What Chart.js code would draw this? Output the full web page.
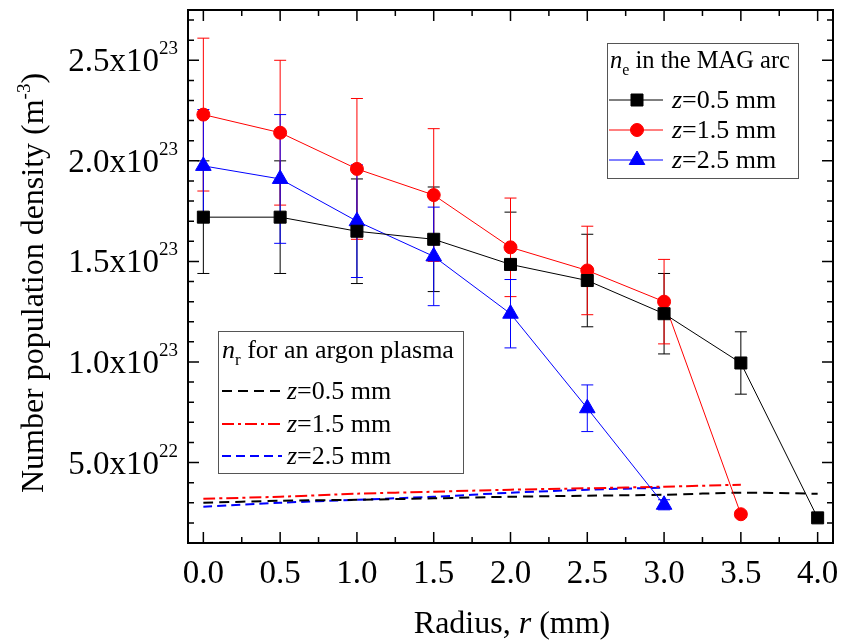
<!DOCTYPE html>
<html>
<head>
<meta charset="utf-8">
<script src="https://cdn.jsdelivr.net/npm/chart.js@4.4.0/dist/chart.umd.min.js"></script>
<style>
body { margin: 0; background: #fff; }
</style>
</head>
<body>
<canvas id="chart" width="843" height="644"></canvas>
<script>
// radius (mm)
const radius = [0.0, 0.5, 1.0, 1.5, 2.0, 2.5, 3.0, 3.5, 4.0];

// n_e measured in the MAG arc (m^-3)
const ne_z05 = [1.72e23, 1.72e23, 1.65e23, 1.61e23, 1.485e23, 1.405e23, 1.24e23, 0.995e23, 0.225e23];
const ne_z05_err = [0.28e23, 0.28e23, 0.26e23, 0.26e23, 0.26e23, 0.23e23, 0.20e23, 0.155e23, 0.015e23];
const ne_z15 = [2.23e23, 2.14e23, 1.96e23, 1.83e23, 1.57e23, 1.455e23, 1.30e23, 0.243e23];
const ne_z15_err = [0.38e23, 0.36e23, 0.35e23, 0.33e23, 0.245e23, 0.22e23, 0.21e23, 0.015e23];
const ne_z25 = [1.975e23, 1.91e23, 1.70e23, 1.525e23, 1.24e23, 0.77e23, 0.29e23];
const ne_z25_err = [0.28e23, 0.32e23, 0.28e23, 0.245e23, 0.17e23, 0.116e23, 0.025e23];

// n_r for an argon plasma (m^-3)
const nr_z05 = [0.30e23, 0.31e23, 0.315e23, 0.322e23, 0.33e23, 0.335e23, 0.34e23, 0.35e23, 0.345e23];
const nr_z15 = [0.32e23, 0.33e23, 0.345e23, 0.355e23, 0.365e23, 0.372e23, 0.38e23, 0.39e23];
const nr_z25 = [0.28e23, 0.30e23, 0.315e23, 0.33e23, 0.35e23, 0.365e23, 0.375e23];

// axes
const x_major = [0.0, 0.5, 1.0, 1.5, 2.0, 2.5, 3.0, 3.5, 4.0];
const x_minor = [0.25, 0.75, 1.25, 1.75, 2.25, 2.75, 3.25, 3.75];
const x_labels = ['0.0', '0.5', '1.0', '1.5', '2.0', '2.5', '3.0', '3.5', '4.0'];
const y_major = [0.5e23, 1.0e23, 1.5e23, 2.0e23, 2.5e23];
const y_minor = [0.2e23, 0.3e23, 0.4e23, 0.6e23, 0.7e23, 0.8e23, 0.9e23, 1.1e23, 1.2e23, 1.3e23, 1.4e23,
                 1.6e23, 1.7e23, 1.8e23, 1.9e23, 2.1e23, 2.2e23, 2.3e23, 2.4e23, 2.6e23, 2.7e23];
const y_labels = [['5.0x10', '22'], ['1.0x10', '23'], ['1.5x10', '23'], ['2.0x10', '23'], ['2.5x10', '23']];
const z_labels = ['0.5', '1.5', '2.5'];

const FONT = '"Liberation Serif", "Times New Roman", serif';

function pts(xs, ys)
{
    return ys.map((y, i) => ({ x: xs[i], y: y }));
}

// parts: [text, size, italic, dy]
function rich_text(ctx, parts, x, y, align)
{
    let w = 0;
    parts.forEach(p => {
        ctx.font = (p[2] ? 'italic ' : '') + p[1] + 'px ' + FONT;
        w += ctx.measureText(p[0]).width;
    });
    let cx = align === 'right' ? x - w : (align === 'center' ? x - w / 2 : x);
    ctx.textAlign = 'left';
    ctx.textBaseline = 'alphabetic';
    parts.forEach(p => {
        ctx.font = (p[2] ? 'italic ' : '') + p[1] + 'px ' + FONT;
        ctx.fillText(p[0], cx, y + (p[3] || 0));
        cx += ctx.measureText(p[0]).width;
    });
}

function marker(ctx, style, x, y, color)
{
    ctx.save();
    ctx.fillStyle = color;
    ctx.strokeStyle = color;
    ctx.lineWidth = 1;
    ctx.beginPath();
    if (style === 'rect') {
        ctx.rect(x - 6, y - 6, 12, 12);
    } else if (style === 'circle') {
        ctx.arc(x, y, 6.5, 0, Math.PI * 2);
    } else {
        const r = 9;
        ctx.moveTo(x, y - r);
        ctx.lineTo(x + r * 0.866, y + r * 0.5);
        ctx.lineTo(x - r * 0.866, y + r * 0.5);
        ctx.closePath();
    }
    ctx.fill();
    ctx.stroke();
    ctx.restore();
}

const axes_plugin = {
    id: 'axes_plugin',
    beforeDatasetsDraw(chart) {
        const ctx = chart.ctx;
        const xs = chart.scales.x, ys = chart.scales.y;
        chart.data.datasets.forEach(ds => {
            if (!ds.errorBars) return;
            ctx.save();
            ctx.strokeStyle = ds.borderColor;
            ctx.lineWidth = 1;
            ds.data.forEach((p, i) => {
                const px = xs.getPixelForValue(p.x);
                const top = ys.getPixelForValue(p.y + ds.errorBars[i]);
                const bot = ys.getPixelForValue(p.y - ds.errorBars[i]);
                ctx.beginPath();
                ctx.moveTo(px, top); ctx.lineTo(px, bot);
                ctx.moveTo(px - 6, top); ctx.lineTo(px + 6, top);
                ctx.moveTo(px - 6, bot); ctx.lineTo(px + 6, bot);
                ctx.stroke();
            });
            ctx.restore();
        });
    },
    afterDraw(chart) {
        const ctx = chart.ctx;
        const a = chart.chartArea;
        const xs = chart.scales.x, ys = chart.scales.y;
        ctx.save();
        ctx.fillStyle = '#000';
        ctx.strokeStyle = '#000';

        // ticks, inward on all four sides
        ctx.lineWidth = 1.5;
        ctx.beginPath();
        x_major.forEach(v => {
            const px = xs.getPixelForValue(v);
            ctx.moveTo(px, a.bottom); ctx.lineTo(px, a.bottom - 11);
            ctx.moveTo(px, a.top); ctx.lineTo(px, a.top + 11);
        });
        x_minor.forEach(v => {
            const px = xs.getPixelForValue(v);
            ctx.moveTo(px, a.bottom); ctx.lineTo(px, a.bottom - 6);
            ctx.moveTo(px, a.top); ctx.lineTo(px, a.top + 6);
        });
        y_major.forEach(v => {
            const py = ys.getPixelForValue(v);
            ctx.moveTo(a.left, py); ctx.lineTo(a.left + 11, py);
            ctx.moveTo(a.right, py); ctx.lineTo(a.right - 11, py);
        });
        y_minor.forEach(v => {
            const py = ys.getPixelForValue(v);
            ctx.moveTo(a.left, py); ctx.lineTo(a.left + 6, py);
            ctx.moveTo(a.right, py); ctx.lineTo(a.right - 6, py);
        });
        ctx.stroke();

        // frame
        ctx.lineWidth = 2;
        ctx.strokeRect(a.left, a.top, a.right - a.left, a.bottom - a.top);

        // tick labels
        x_major.forEach((v, i) => {
            rich_text(ctx, [[x_labels[i], 33, false]], xs.getPixelForValue(v), a.bottom + 40, 'center');
        });
        y_major.forEach((v, i) => {
            const py = ys.getPixelForValue(v);
            rich_text(ctx, [[y_labels[i][0], 33, false, 11], [y_labels[i][1], 19, false, -6]], 178, py, 'right');
        });

        // axis titles
        rich_text(ctx, [['Radius, ', 32, false], ['r', 32, true], [' (mm)', 32, false]], 512, 633, 'center');
        ctx.save();
        ctx.translate(43, 283);
        ctx.rotate(-Math.PI / 2);
        rich_text(ctx, [['Number population density (m', 32, false], ['-3', 19, false, -13], [')', 32, false]], 0, 0, 'center');
        ctx.restore();

        // legend: n_e
        ctx.fillStyle = '#fff';
        ctx.fillRect(607, 43, 191, 135);
        ctx.strokeStyle = '#555';
        ctx.lineWidth = 1;
        ctx.strokeRect(607.5, 43.5, 191, 135);
        ctx.fillStyle = '#000';
        rich_text(ctx, [['n', 24.5, true], ['e', 16, false, 7], [' in the MAG arc', 24.5, false]], 610, 68, 'left');
        const ne_sets = chart.data.datasets.slice(0, 3);
        ne_sets.forEach((ds, i) => {
            const ry = 100 + i * 30;
            ctx.strokeStyle = ds.borderColor;
            ctx.lineWidth = 1;
            ctx.beginPath(); ctx.moveTo(609, ry); ctx.lineTo(663, ry); ctx.stroke();
            marker(ctx, ds.pointStyle, 637, ry, ds.borderColor);
            ctx.fillStyle = '#000';
            rich_text(ctx, [['z', 26, true], ['=' + z_labels[i] + ' mm', 26, false]], 672, ry + 8, 'left');
        });

        // legend: n_r
        ctx.fillStyle = '#fff';
        ctx.fillRect(218, 331, 245, 142);
        ctx.strokeStyle = '#555';
        ctx.lineWidth = 1;
        ctx.strokeRect(218.5, 331.5, 245, 142);
        ctx.fillStyle = '#000';
        rich_text(ctx, [['n', 26, true], ['r', 17, false, 7], [' for an argon plasma', 26, false]], 222, 358, 'left');
        const nr_sets = chart.data.datasets.slice(3, 6);
        nr_sets.forEach((ds, i) => {
            const ry = [391, 424, 456][i];
            ctx.save();
            ctx.strokeStyle = ds.borderColor;
            ctx.lineWidth = 2;
            ctx.setLineDash(ds.borderDash);
            ctx.beginPath(); ctx.moveTo(222, ry); ctx.lineTo(282, ry); ctx.stroke();
            ctx.restore();
            ctx.fillStyle = '#000';
            rich_text(ctx, [['z', 26, true], ['=' + z_labels[i] + ' mm', 26, false]], 287, ry + 8, 'left');
        });
        ctx.restore();
    }
};

const ctx_chart = document.getElementById('chart').getContext('2d');
const density_chart = new Chart(ctx_chart, {
    type: 'line',
    data: {
        datasets: [
            {
                label: 'ne z=0.5 mm',
                data: pts(radius, ne_z05),
                errorBars: ne_z05_err,
                borderColor: '#000000',
                backgroundColor: '#000000',
                borderWidth: 1,
                pointStyle: 'rect',
                pointRadius: 8.5,
                pointBorderWidth: 1
            },
            {
                label: 'ne z=1.5 mm',
                data: pts(radius, ne_z15),
                errorBars: ne_z15_err,
                borderColor: '#ff0000',
                backgroundColor: '#ff0000',
                borderWidth: 1,
                pointStyle: 'circle',
                pointRadius: 6.5,
                pointBorderWidth: 1
            },
            {
                label: 'ne z=2.5 mm',
                data: pts(radius, ne_z25),
                errorBars: ne_z25_err,
                borderColor: '#0000ff',
                backgroundColor: '#0000ff',
                borderWidth: 1,
                pointStyle: 'triangle',
                pointRadius: 9,
                pointBorderWidth: 1
            },
            {
                label: 'nr z=0.5 mm',
                data: pts(radius, nr_z05),
                borderColor: '#000000',
                borderWidth: 2,
                borderDash: [10, 6],
                pointRadius: 0,
                tension: 0.3
            },
            {
                label: 'nr z=1.5 mm',
                data: pts(radius, nr_z15),
                borderColor: '#ff0000',
                borderWidth: 2,
                borderDash: [12, 4, 3, 4],
                pointRadius: 0,
                tension: 0.3
            },
            {
                label: 'nr z=2.5 mm',
                data: pts(radius, nr_z25),
                borderColor: '#0000ff',
                borderWidth: 2,
                borderDash: [9, 5],
                pointRadius: 0,
                tension: 0.3
            }
        ]
    },
    options: {
        responsive: false,
        devicePixelRatio: 1,
        animation: false,
        layout: { padding: { left: 188, top: 5, right: 10, bottom: 101 } },
        plugins: { legend: { display: false }, tooltip: { enabled: false } },
        scales: {
            x: { type: 'linear', min: -0.1, max: 4.1, display: false },
            y: { type: 'linear', min: 0.1e23, max: 2.75e23, display: false }
        }
    },
    plugins: [axes_plugin]
});
</script>
</body>
</html>
